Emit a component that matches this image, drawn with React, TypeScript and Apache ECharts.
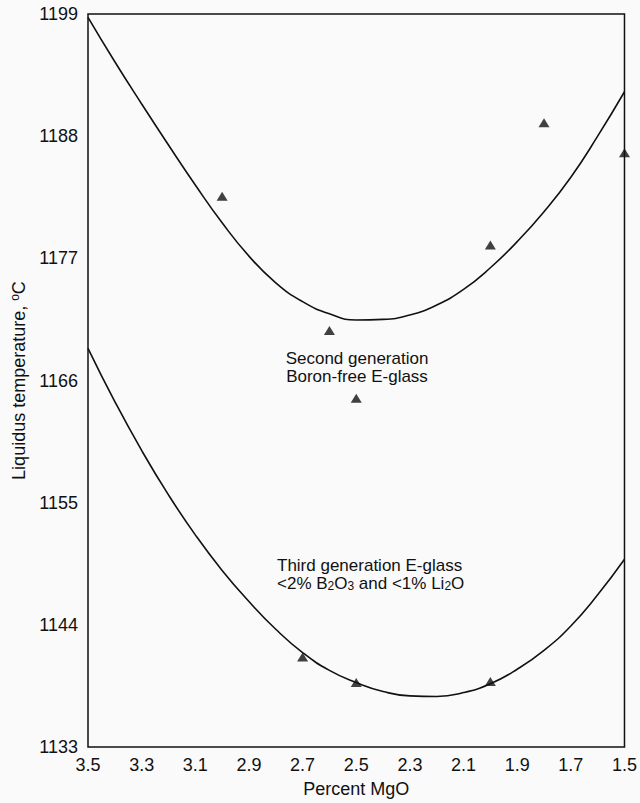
import React, { useEffect, useRef } from "react";
import * as echarts from "echarts";

// Percent MgO positions at which the fitted curves were read
const curveMgO = [3.5, 3.4, 3.3, 3.2, 3.1, 3.0, 2.9, 2.8, 2.7, 2.6, 2.5, 2.4, 2.3, 2.2, 2.1, 2.0, 1.9, 1.8, 1.7, 1.6, 1.5];
// Second generation (boron-free) fitted curve
const secondGenCurve = [1198.7, 1194.7, 1190.9, 1187.2, 1183.6, 1180.2, 1177.2, 1174.8, 1173.1, 1172.0, 1171.45, 1171.5, 1171.9, 1172.8, 1174.2, 1176.15, 1178.5, 1181.2, 1184.3, 1188.0, 1192.0];
// Third generation fitted curve
const thirdGenCurve = [1168.9, 1164.1, 1159.7, 1155.7, 1152.1, 1148.9, 1146.1, 1143.6, 1141.5, 1139.9, 1138.8, 1138.0, 1137.6, 1137.55, 1137.9, 1138.7, 1140.0, 1141.7, 1143.9, 1146.7, 1149.9];

// Measured points
const secondGenMgO = [3.0, 2.6, 2.5, 2.0, 1.8, 1.5];
const secondGenTemp = [1182.6, 1170.5, 1164.4, 1178.2, 1189.2, 1186.5];
const thirdGenMgO = [2.7, 2.5, 2.0];
const thirdGenTemp = [1141.1, 1138.8, 1138.9];

const FONT = '"Liberation Sans", Arial, Helvetica, sans-serif';
const INK = "#111111";

export default function App() {
  const ref = useRef<HTMLDivElement>(null);
  useEffect(() => {
    if (!ref.current) return;
    const chart = echarts.init(ref.current, null, { renderer: "svg" });
    const zip = (xs: number[], ys: number[]) => xs.map((x, i) => [x, ys[i]]);
    chart.setOption({
      animation: false,
      backgroundColor: "#fafafa",
      textStyle: { fontFamily: FONT, color: INK },
      grid: {
        left: 88,
        right: 14,
        top: 14,
        bottom: 56,
        show: true,
        borderColor: INK,
        borderWidth: 1.5,
        backgroundColor: "transparent",
      },
      xAxis: {
        type: "value",
        min: 1.5,
        max: 3.5,
        interval: 0.2,
        inverse: true,
        axisLine: { show: false },
        axisTick: { show: false },
        splitLine: { show: false },
        axisLabel: {
          fontSize: 18,
          color: INK,
          fontFamily: FONT,
          margin: 9,
          formatter: (v: number) => v.toFixed(1),
        },
        name: "Percent MgO",
        nameLocation: "middle",
        nameGap: 33,
        nameTextStyle: { fontSize: 18, color: INK, fontFamily: FONT },
      },
      yAxis: {
        type: "value",
        min: 1133,
        max: 1199,
        interval: 11,
        axisLine: { show: false },
        axisTick: { show: false },
        splitLine: { show: false },
        axisLabel: {
          fontSize: 18,
          color: INK,
          fontFamily: FONT,
          margin: 10,
          formatter: (v: number) => String(v),
        },
        name: "{a|Liquidus temperature, }{sup|o}{a|C}",
        nameLocation: "middle",
        nameRotate: 90,
        nameGap: 58,
        nameTextStyle: {
          rich: {
            a: { fontSize: 18, color: INK, fontFamily: FONT, lineHeight: 20 },
            sup: { fontSize: 12, color: INK, fontFamily: FONT, lineHeight: 12, verticalAlign: "top" },
          },
        },
      },
      series: [
        {
          type: "line",
          data: zip(curveMgO, secondGenCurve),
          smooth: 0.5,
          showSymbol: false,
          lineStyle: { color: INK, width: 1.6 },
          z: 2,
        },
        {
          type: "line",
          data: zip(curveMgO, thirdGenCurve),
          smooth: 0.5,
          showSymbol: false,
          lineStyle: { color: INK, width: 1.6 },
          z: 2,
        },
        {
          type: "scatter",
          data: zip(secondGenMgO, secondGenTemp),
          symbol: "triangle",
          symbolSize: [11, 9],
          itemStyle: { color: INK },
          z: 3,
        },
        {
          type: "scatter",
          data: zip(thirdGenMgO, thirdGenTemp),
          symbol: "triangle",
          symbolSize: [11, 9],
          itemStyle: { color: INK },
          z: 3,
        },
      ],
      graphic: [
        {
          type: "text",
          x: 357,
          y: 367,
          style: {
            text: "Second generation\nBoron-free E-glass",
            fontSize: 17,
            lineHeight: 18,
            fontFamily: FONT,
            fill: INK,
            align: "center",
            verticalAlign: "middle",
          },
        },
        {
          type: "text",
          x: 277,
          y: 574,
          style: {
            text: "{a|Third generation E-glass}\n{a|<2% B}{s|2}{a|O}{s|3}{a| and <1% Li}{s|2}{a|O}",
            fontFamily: FONT,
            fill: INK,
            align: "left",
            verticalAlign: "middle",
            rich: {
              a: { fontSize: 17, lineHeight: 18, fontFamily: FONT, fill: INK },
              s: { fontSize: 12, lineHeight: 10, fontFamily: FONT, fill: INK, verticalAlign: "bottom" },
            },
          },
        },
      ],
    });
    return () => chart.dispose();
  }, []);
  return <div ref={ref} style={{ width: 640, height: 803, position: "absolute", left: 0, top: 0 }} />;
}
